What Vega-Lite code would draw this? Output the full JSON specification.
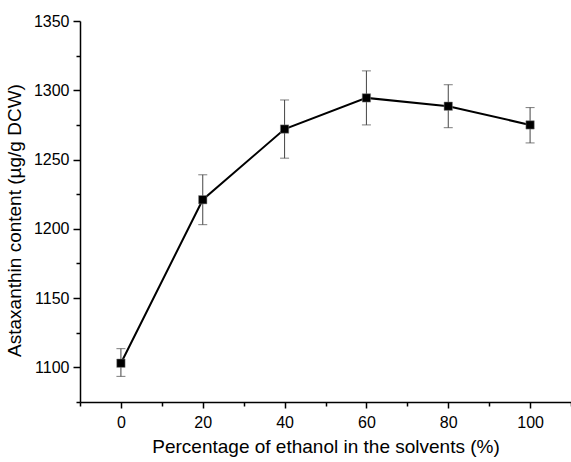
{
  "$schema": "https://vega.github.io/schema/vega-lite/v6.json",
  "width": 491,
  "height": 381,
  "autosize": {"type": "none"},
  "padding": {"left": 80, "top": 21, "right": 0, "bottom": 60},
  "background": "white",
  "config": {
    "view": {"stroke": null},
    "axis": {
      "grid": false,
      "domainColor": "black",
      "domainWidth": 1.5,
      "tickColor": "black",
      "tickWidth": 1.5,
      "labelFont": "Liberation Sans",
      "labelFontSize": 16,
      "labelColor": "black",
      "labelOverlap": false,
      "titleFont": "Liberation Sans",
      "titleFontSize": 19,
      "titleFontWeight": "normal",
      "titleColor": "black"
    }
  },
  "data": {
    "values": [
      {"pct": 0, "content": 1103, "lo": 1093.5, "hi": 1113.5},
      {"pct": 20, "content": 1221, "lo": 1203, "hi": 1239},
      {"pct": 40, "content": 1272, "lo": 1251, "hi": 1293},
      {"pct": 60, "content": 1294.5, "lo": 1275, "hi": 1314},
      {"pct": 80, "content": 1288.5, "lo": 1273, "hi": 1304},
      {"pct": 100, "content": 1275, "lo": 1262, "hi": 1287.5}
    ]
  },
  "layer": [
    {
      "mark": {"type": "rule", "color": "#444444", "strokeWidth": 1},
      "encoding": {
        "x": {
          "field": "pct", "type": "quantitative",
          "scale": {"domain": [-10, 110], "nice": false, "zero": false},
          "axis": {
            "title": "Percentage of ethanol in the solvents (%)",
            "values": [-10, 0, 10, 20, 30, 40, 50, 60, 70, 80, 90, 100, 110],
            "labelExpr": "datum.value % 20 === 0 ? datum.label : ''",
            "tickSize": {"condition": {"test": "datum.value % 20 === 0", "value": 6}, "value": 4},
            "labelPadding": 6, "titlePadding": 7,
            "orient": "bottom"
          }
        },
        "y": {
          "field": "lo", "type": "quantitative",
          "scale": {"domain": [1075, 1350], "nice": false, "zero": false},
          "axis": {
            "title": "Astaxanthin content (µg/g DCW)",
            "values": [1075, 1100, 1125, 1150, 1175, 1200, 1225, 1250, 1275, 1300, 1325, 1350],
            "labelExpr": "datum.value % 50 === 0 ? format(datum.value, 'd') : ''",
            "tickSize": {"condition": {"test": "datum.value % 50 === 0", "value": 7}, "value": 4},
            "labelPadding": 4, "titlePadding": 9, "titleY": 199,
            "orient": "left"
          }
        },
        "y2": {"field": "hi"}
      }
    },
    {
      "mark": {"type": "tick", "orient": "horizontal", "color": "#444444", "size": 9, "thickness": 1},
      "encoding": {
        "x": {"field": "pct", "type": "quantitative", "axis": null},
        "y": {"field": "lo", "type": "quantitative", "axis": null}
      }
    },
    {
      "mark": {"type": "tick", "orient": "horizontal", "color": "#444444", "size": 9, "thickness": 1},
      "encoding": {
        "x": {"field": "pct", "type": "quantitative", "axis": null},
        "y": {"field": "hi", "type": "quantitative", "axis": null}
      }
    },
    {
      "mark": {"type": "line", "color": "black", "strokeWidth": 2},
      "encoding": {
        "x": {"field": "pct", "type": "quantitative", "axis": null},
        "y": {"field": "content", "type": "quantitative", "axis": null}
      }
    },
    {
      "mark": {"type": "point", "shape": "square", "filled": true, "color": "black", "opacity": 1, "size": 70, "stroke": "#888888", "strokeWidth": 0.5},
      "encoding": {
        "x": {"field": "pct", "type": "quantitative", "axis": null},
        "y": {"field": "content", "type": "quantitative", "axis": null}
      }
    }
  ],
  "resolve": {"axis": {"x": "independent", "y": "independent"}}
}
